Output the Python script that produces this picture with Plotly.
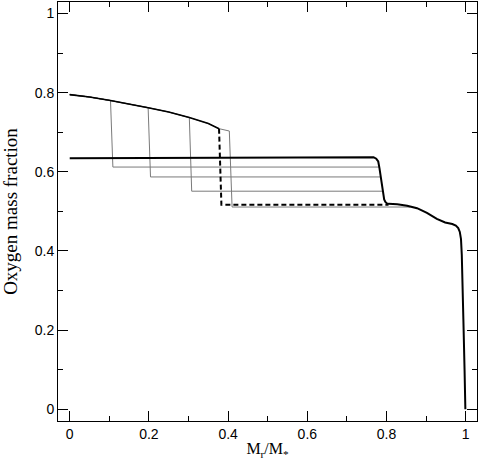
import plotly.graph_objects as go

# Initial (pre-mixing) oxygen profile in the core
profile_x = [0.0, 0.05, 0.103, 0.15, 0.198, 0.25, 0.302, 0.35, 0.377, 0.403]
profile_y = [0.795, 0.789, 0.780, 0.772, 0.762, 0.751, 0.737, 0.722, 0.709, 0.703]

# Intermediate mixing fronts (thin grey): where they leave the profile, foot x, plateau y, join x
front_x = [0.103, 0.198, 0.302, 0.403]
foot_x = [0.109, 0.204, 0.308, 0.410]
plateau_y = [0.612, 0.587, 0.551, 0.511]
join_x = [0.782, 0.785, 0.789, 0.860]

# Dashed profile
dash_front_x = 0.377
dash_foot_x = 0.383
dash_plateau_y = 0.517
dash_join_x = 0.805

# Final profile (thick black)
final_x = [0.0, 0.4, 0.6, 0.767, 0.774, 0.779, 0.782, 0.785, 0.788, 0.790, 0.794, 0.797,
           0.801, 0.805, 0.827, 0.852, 0.877, 0.902, 0.927, 0.948, 0.966, 0.975, 0.981,
           0.985, 0.988, 0.990, 0.992, 0.994, 0.997, 0.999]
final_y = [0.634, 0.635, 0.636, 0.637, 0.633, 0.626, 0.610, 0.588, 0.565, 0.546, 0.530, 0.524,
           0.520, 0.519, 0.518, 0.514, 0.508, 0.496, 0.481, 0.472, 0.468, 0.464, 0.458,
           0.448, 0.430, 0.390, 0.330, 0.227, 0.100, 0.0]

x_ticks = [0, 0.2, 0.4, 0.6, 0.8, 1]
x_ticklabels = ["0", "0.2", "0.4", "0.6", "0.8", "1"]
y_ticks = [0, 0.2, 0.4, 0.6, 0.8, 1]
y_ticklabels = ["0", "0.2", "0.4", "0.6", "0.8", "1"]
minor_ticks = [0.1, 0.3, 0.5, 0.7, 0.9]

X_RANGE = [-0.0296, 1.0284]
Y_RANGE = [-0.0296, 1.029]


def upto(fx):
    xs = [x for x in profile_x if x <= fx]
    ys = [y for x, y in zip(profile_x, profile_y) if x <= fx]
    return xs, ys


fig = go.Figure()

for fx, ft, py, jx in zip(front_x, foot_x, plateau_y, join_x):
    xs, ys = upto(fx)
    fig.add_trace(go.Scatter(x=xs + [ft, jx], y=ys + [py, py], mode="lines",
                             line=dict(color="#7a7a7a", width=1),
                             hoverinfo="skip", showlegend=False))

# solid part of the initial profile (where all curves overlap)
xs, ys = upto(dash_front_x)
fig.add_trace(go.Scatter(x=xs, y=ys, mode="lines",
                         line=dict(color="black", width=1.6), showlegend=False))

fig.add_trace(go.Scatter(x=[xs[-1], dash_foot_x, dash_join_x],
                         y=[ys[-1], dash_plateau_y, dash_plateau_y], mode="lines",
                         line=dict(color="black", width=2, dash="5px,3px"),
                         showlegend=False))

# final profile drawn on the overlay axes (same ranges) that carry the minor ticks
fig.add_trace(go.Scatter(x=final_x, y=final_y, mode="lines", xaxis="x2", yaxis="y2",
                         line=dict(color="black", width=2),
                         showlegend=False))

axis_common = dict(
    showline=True, linecolor="#000000", linewidth=1, mirror="ticks",
    ticks="inside", tickwidth=1, tickcolor="#000000",
    showgrid=False, zeroline=False,
)
label_font = dict(family="Liberation Sans", size=14, color="black")

fig.update_layout(
    xaxis=dict(range=X_RANGE, tickvals=x_ticks, ticktext=x_ticklabels, ticklen=10,
               tickfont=label_font,
               title=dict(text="M<sub>r</sub>/M<sub>*</sub>",
                          font=dict(family="Liberation Serif", size=16, color="black"),
                          standoff=2),
               **axis_common),
    yaxis=dict(range=Y_RANGE, tickvals=y_ticks, ticktext=y_ticklabels, ticklen=10,
               tickfont=label_font,
               title=dict(text="Oxygen mass fraction",
                          font=dict(family="Liberation Serif", size=19, color="black"),
                          standoff=16),
               **axis_common),
    xaxis2=dict(range=X_RANGE, tickvals=minor_ticks, ticklen=5, overlaying="x",
                side="bottom", anchor="y2", showticklabels=False, **axis_common),
    yaxis2=dict(range=Y_RANGE, tickvals=minor_ticks, ticklen=5, overlaying="y",
                side="left", anchor="x2", showticklabels=False, **axis_common),
    width=479, height=461,
    margin=dict(l=58, r=2, t=2, b=40, autoexpand=False),
    paper_bgcolor="white", plot_bgcolor="white",
)

fig.write_html("out.html", config={"displayModeBar": False},
               post_script="document.body.style.margin='0';document.body.style.overflow='hidden';")
